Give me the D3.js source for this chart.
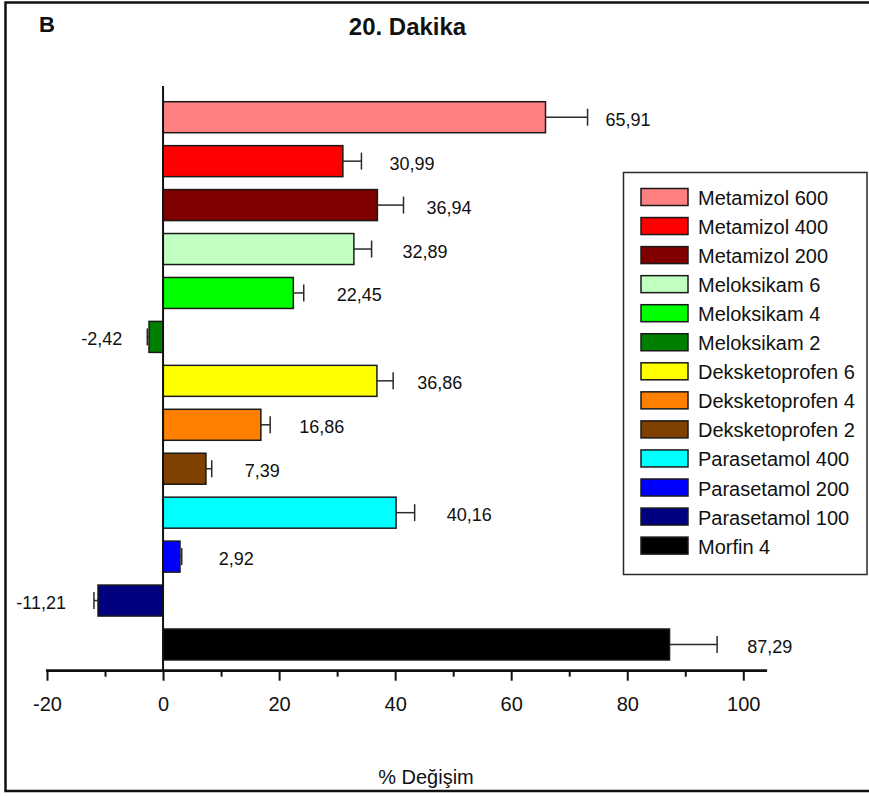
<!DOCTYPE html>
<html>
<head>
<meta charset="utf-8">
<script src="https://cdn.jsdelivr.net/npm/d3@7"></script>
<style>
  html, body { margin: 0; padding: 0; background: #fff; }
  svg { display: block; font-family: "Liberation Sans", Arial, sans-serif; }
</style>
</head>
<body>
<svg id="chart" width="869" height="796"></svg>
<script>
// Groups, their mean % change and the error (SEM) drawn as the whisker
const categories = [
  "Metamizol 600", "Metamizol 400", "Metamizol 200",
  "Meloksikam 6", "Meloksikam 4", "Meloksikam 2",
  "Deksketoprofen 6", "Deksketoprofen 4", "Deksketoprofen 2",
  "Parasetamol 400", "Parasetamol 200", "Parasetamol 100",
  "Morfin 4"
];
const values = [65.91, 30.99, 36.94, 32.89, 22.45, -2.42, 36.86, 16.86, 7.39, 40.16, 2.92, -11.21, 87.29];
const errors = [7.25, 3.2, 4.5, 3.05, 1.8, 0.3, 2.8, 1.6, 1.0, 3.2, 0.3, 0.7, 8.2];
const valueLabels = ["65,91", "30,99", "36,94", "32,89", "22,45", "-2,42", "36,86", "16,86", "7,39", "40,16", "2,92", "-11,21", "87,29"];
const colors = ["#FF8080", "#FF0000", "#800000", "#C0FFC0", "#00FF00", "#008000",
                "#FFFF00", "#FF8000", "#804000", "#00FFFF", "#0000FF", "#000080", "#000000"];
const majorTicks = [-20, 0, 20, 40, 60, 80, 100];
const minorTicks = [-10, 10, 30, 50, 70, 90];
const tickLabels = ["-20", "0", "20", "40", "60", "80", "100"];
const titleText = "20. Dakika";
const panelText = "B";
const axisTitle = "% Değişim";

// Layout: gap between whisker end and its value label, per bar
const labelGap = [18, 28, 23, 31, 33, 25, 24, 29, 33, 32, 37, 28, 30];

const svg = d3.select("#chart");
const ink = "#111";

// outer frame (right edge runs off the page)
svg.append("rect")
  .attr("x", 5.5).attr("y", 2.5).attr("width", 880).attr("height", 788.5)
  .attr("fill", "none").attr("stroke", ink).attr("stroke-width", 2.5);

const x = d3.scaleLinear().domain([-20, 100]).range([47, 743.3]);
const y = d3.scaleBand().domain(categories).range([86, 671])
  .paddingInner(0.2945).paddingOuter(0.304).align(0.588);

const axisY = 670.7;

// bars
svg.append("g").selectAll("rect")
  .data(categories)
  .join("rect")
  .attr("x", (d, i) => x(Math.min(0, values[i])))
  .attr("y", d => y(d))
  .attr("width", (d, i) => Math.abs(x(values[i]) - x(0)))
  .attr("height", y.bandwidth())
  .attr("fill", (d, i) => colors[i])
  .attr("stroke", "#1a1a1a").attr("stroke-width", 1.5);

// error whiskers
const whiskers = svg.append("g").attr("stroke", "#2a2a2a").attr("stroke-width", 1.5);
categories.forEach((c, i) => {
  const sign = values[i] < 0 ? -1 : 1;
  const x0 = x(values[i]);
  const x1 = x(values[i] + sign * errors[i]);
  const cy = y(c) + y.bandwidth() / 2;
  whiskers.append("line").attr("x1", x0).attr("x2", x1).attr("y1", cy).attr("y2", cy);
  whiskers.append("line").attr("x1", x1).attr("x2", x1).attr("y1", cy - 8.5).attr("y2", cy + 8.5);
});

// value labels
svg.append("g").selectAll("text")
  .data(categories)
  .join("text")
  .attr("x", (d, i) => {
    const sign = values[i] < 0 ? -1 : 1;
    return x(values[i] + sign * errors[i]) + sign * labelGap[i];
  })
  .attr("y", d => y(d) + y.bandwidth() / 2 + 2.5)
  .attr("dominant-baseline", "central")
  .attr("text-anchor", (d, i) => values[i] < 0 ? "end" : "start")
  .attr("font-size", 18)
  .attr("fill", ink)
  .text((d, i) => valueLabels[i]);

// vertical zero line
svg.append("line")
  .attr("x1", x(0)).attr("x2", x(0)).attr("y1", 86).attr("y2", axisY)
  .attr("stroke", ink).attr("stroke-width", 2);

// x axis with major and minor ticks
const xAxis = d3.axisBottom(x).tickValues(majorTicks).tickSize(10).tickPadding(16.5)
  .tickFormat((d, i) => tickLabels[i]);
const gx = svg.append("g").attr("transform", `translate(0,${axisY})`).call(xAxis);
gx.select(".domain").remove();
gx.selectAll(".tick line").attr("stroke", ink).attr("stroke-width", 2);
gx.selectAll(".tick text").attr("font-size", 20).attr("fill", ink)
  .attr("font-family", "'Liberation Sans', Arial, sans-serif");

const gm = svg.append("g").attr("transform", `translate(0,${axisY})`)
  .call(d3.axisBottom(x).tickValues(minorTicks).tickSize(6).tickFormat(""));
gm.select(".domain").remove();
gm.selectAll(".tick line").attr("stroke", ink).attr("stroke-width", 2);

svg.append("line")
  .attr("x1", x(-20) - 1).attr("x2", x(104.1)).attr("y1", axisY).attr("y2", axisY)
  .attr("stroke", ink).attr("stroke-width", 2.7);

// titles
svg.append("text").attr("x", 407.5).attr("y", 35).attr("text-anchor", "middle")
  .attr("font-size", 24).attr("font-weight", "bold").attr("fill", ink).text(titleText);
svg.append("text").attr("x", 39).attr("y", 32)
  .attr("font-size", 22).attr("font-weight", "bold").attr("fill", ink).text(panelText);
svg.append("text").attr("x", 426).attr("y", 784).attr("text-anchor", "middle")
  .attr("font-size", 20).attr("fill", ink).text(axisTitle);

// legend
const legend = svg.append("g");
legend.append("rect")
  .attr("x", 623.5).attr("y", 172.5).attr("width", 243.5).attr("height", 402)
  .attr("fill", "#fff").attr("stroke", "#2a2a2a").attr("stroke-width", 1.5);
const rowY = i => 197 + i * 29.05;
legend.selectAll("rect.sw")
  .data(categories)
  .join("rect").attr("class", "sw")
  .attr("x", 641).attr("y", (d, i) => rowY(i) - 8.5)
  .attr("width", 47).attr("height", 17)
  .attr("fill", (d, i) => colors[i])
  .attr("stroke", "#1a1a1a").attr("stroke-width", 1.5);
legend.selectAll("text")
  .data(categories)
  .join("text")
  .attr("x", 698).attr("y", (d, i) => rowY(i) + 1)
  .attr("dominant-baseline", "central")
  .attr("font-size", 20).attr("fill", ink)
  .text(d => d);
</script>
</body>
</html>
